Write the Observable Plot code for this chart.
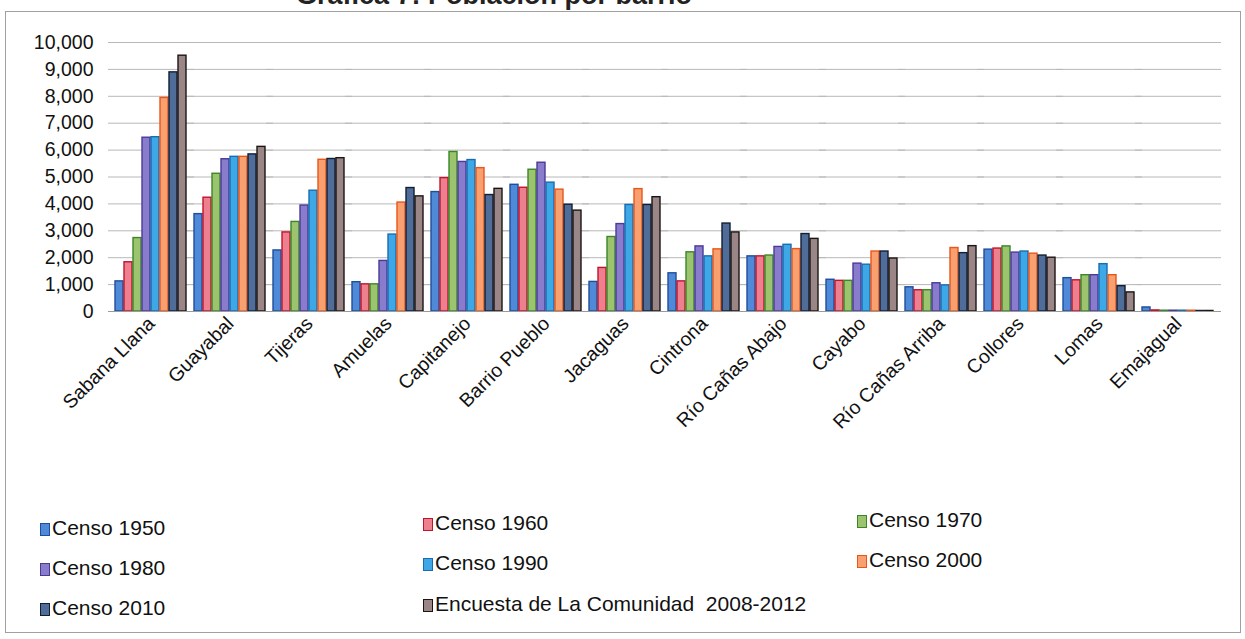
<!DOCTYPE html>
<html>
<head>
<meta charset="utf-8">
<script src="https://cdn.jsdelivr.net/npm/d3@7"></script>
<script src="https://cdn.jsdelivr.net/npm/@observablehq/plot@0.6"></script>
<style>
  html, body { margin: 0; padding: 0; background: #fff; width: 1245px; height: 639px; overflow: hidden; }
  body { position: relative; font-family: "Liberation Sans", Arial, sans-serif; }
  #frame { position: absolute; left: 5px; top: 11px; width: 1236px; height: 622px; border: 1px solid #a0a0a0; box-sizing: border-box; }
  #title { position: absolute; left: 296px; top: -20px; font-size: 27px; font-weight: bold; color: #222; white-space: nowrap; }
  #chart { position: absolute; left: 0; top: 0; }
  .leg { position: absolute; font-size: 21px; color: #111; white-space: pre; line-height: 24px; }
  .sw { display: inline-block; width: 8px; height: 11px; border: 1.5px solid; margin-right: 2px; vertical-align: -1px; }
</style>
</head>
<body>
<div id="title">Gráfica 7: Población por barrio</div>
<div id="frame"></div>
<div id="chart"></div>
<div id="legend"></div>
<script>
const categories = ["Sabana Llana", "Guayabal", "Tijeras", "Amuelas", "Capitanejo", "Barrio Pueblo", "Jacaguas", "Cintrona", "Río Cañas Abajo", "Cayabo", "Río Cañas Arriba", "Collores", "Lomas", "Emajagual"];
const series = ["Censo 1950", "Censo 1960", "Censo 1970", "Censo 1980", "Censo 1990", "Censo 2000", "Censo 2010", "Encuesta de La Comunidad  2008-2012"];

const censo1950 = [1120, 3620, 2270, 1090, 4440, 4710, 1100, 1420, 2050, 1180, 900, 2300, 1240, 150];
const censo1960 = [1830, 4230, 2940, 1010, 4960, 4600, 1620, 1120, 2050, 1140, 790, 2340, 1160, 40];
const censo1970 = [2730, 5120, 3330, 1010, 5930, 5270, 2770, 2200, 2080, 1140, 790, 2420, 1350, 30];
const censo1980 = [6460, 5660, 3940, 1880, 5560, 5530, 3250, 2420, 2400, 1780, 1050, 2190, 1350, 30];
const censo1990 = [6480, 5750, 4490, 2860, 5630, 4790, 3960, 2050, 2480, 1740, 970, 2230, 1760, 30];
const censo2000 = [7940, 5750, 5640, 4050, 5330, 4530, 4550, 2310, 2320, 2230, 2360, 2150, 1350, 30];
const censo2010 = [8890, 5840, 5670, 4590, 4330, 3970, 3960, 3270, 2880, 2230, 2170, 2080, 940, 20];
const encuesta = [9510, 6120, 5700, 4280, 4560, 3750, 4250, 2940, 2700, 1970, 2430, 2000, 710, 20];

const yTicks = [0, 1000, 2000, 3000, 4000, 5000, 6000, 7000, 8000, 9000, 10000];

const fills = ["#4f8ad8", "#ee7f8e", "#9cc46e", "#8a7ccc", "#3ea8e6", "#f8a070", "#4f6d98", "#9a8686"];
const strokes = ["#1f4e9a", "#c0142c", "#3a8628", "#4a3a98", "#1a6cb0", "#e8561a", "#121e34", "#1c1414"];

const seriesValues = [censo1950, censo1960, censo1970, censo1980, censo1990, censo2000, censo2010, encuesta];
const data = [];
series.forEach((s, si) => categories.forEach((c, ci) => data.push({cat: c, series: s, value: seriesValues[si][ci]})));

const chart = Plot.plot({
  width: 1245,
  height: 500,
  marginLeft: 105,
  marginRight: 22,
  marginTop: 42,
  marginBottom: 189,
  style: {fontFamily: "'Liberation Sans', Arial, sans-serif", fontSize: "19.5px", background: "transparent", color: "#111", overflow: "visible"},
  fx: {domain: categories, paddingInner: 0.04, paddingOuter: 0.08, label: null, tickRotate: -45, tickSize: 0, tickPadding: 9},
  x: {domain: series, axis: null, paddingInner: 0.07, paddingOuter: 0},
  y: {domain: [0, 10000], ticks: yTicks, tickFormat: d3.format(","), tickSize: 0, tickPadding: 20, label: null},
  marks: [
    Plot.ruleY(yTicks.filter(t => t > 0), {stroke: "#b8b8b8", strokeWidth: 1, insetLeft: -5, insetRight: -5}),
    ...series.map((s, i) => Plot.barY(data.filter(d => d.series === s), {fx: "cat", x: "series", y: "value", fill: fills[i], stroke: strokes[i], strokeWidth: 1.4})),
    Plot.ruleY([0], {stroke: "#9a9a9a", strokeWidth: 1, insetLeft: -5, insetRight: -5})
  ]
});
document.getElementById("chart").appendChild(chart);

// legend (three columns)
const legendPos = [
  [40, 516], [423, 511], [857, 508],
  [40, 556], [423, 551], [857, 548],
  [40, 596], [423, 592]
];
const legend = document.getElementById("legend");
series.forEach((s, i) => {
  const div = document.createElement("div");
  div.className = "leg";
  div.style.left = legendPos[i][0] + "px";
  div.style.top = legendPos[i][1] + "px";
  const sw = document.createElement("span");
  sw.className = "sw";
  sw.style.background = fills[i];
  sw.style.borderColor = strokes[i];
  div.appendChild(sw);
  div.appendChild(document.createTextNode(s));
  legend.appendChild(div);
});
</script>
</body>
</html>
